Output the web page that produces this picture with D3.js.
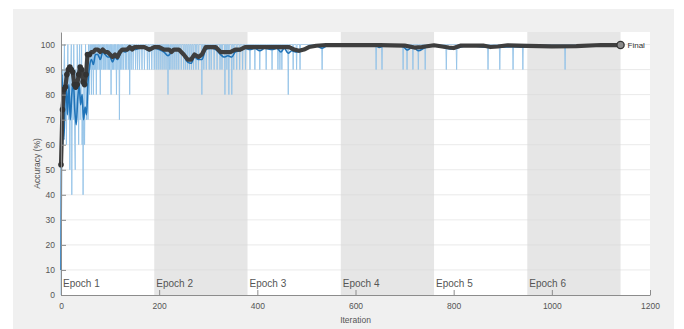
<!DOCTYPE html>
<html>
<head>
<meta charset="utf-8">
<script src="https://cdn.jsdelivr.net/npm/d3@7"></script>
<style>
  body { margin: 0; background: #fff; }
  svg text { font-family: "Liberation Sans", Arial, sans-serif; }
</style>
</head>
<body>
<div id="chart"></div>
<script>
// ... data

const epochNames = ['Epoch 1', 'Epoch 2', 'Epoch 3', 'Epoch 4', 'Epoch 5', 'Epoch 6'];
const epochStarts = [0, 190, 380, 570, 760, 950];
const lastIteration = 1140;

const xTicks = [0, 200, 400, 600, 800, 1000, 1200];
const yTicks = [0, 10, 20, 30, 40, 50, 60, 70, 80, 90, 100];

// mini-batch accuracy, iterations 0..60
const trainEarly = [0, 70, 60, 90, 80, 60, 90, 100, 80, 70, 90, 60, 80, 90, 100, 80, 70, 90, 50, 80,
    90, 100, 40, 80, 90, 70, 100, 80, 60, 50, 90, 80, 70, 100, 90, 80, 60, 90, 100, 70,
    80, 90, 100, 60, 80, 40, 70, 90, 60, 80, 100, 90, 70, 80, 90, 70, 100, 90, 80, 100, 90];

// later iterations where the mini-batch accuracy fell below 100
const trainDipIter = [62, 64, 66, 68, 70, 72, 75, 78, 80, 83, 86, 88, 91, 94, 97, 99, 102, 105, 107, 110,
    113, 116, 119, 121, 124, 127, 131, 134, 138, 140, 143, 147, 152, 156, 160, 165, 170, 176, 180, 185,
    190, 194, 198, 202, 206, 210, 214, 218, 221, 224, 228, 232, 236, 240, 245, 250, 254, 258, 262, 266,
    270, 275, 280, 287, 291, 296, 302, 306, 312, 318, 324, 328, 334, 338, 342, 348, 352, 358, 364, 370,
    376, 385, 395, 405, 418, 430, 442, 446, 450, 463, 473, 480, 487, 532, 642, 654, 697, 705, 717, 728,
    742, 785, 806, 870, 894, 921, 941, 1027];
const trainDipAcc = [80, 90, 80, 90, 90, 80, 90, 90, 80, 90, 90, 90, 90, 90, 90, 90, 80, 90, 90, 90,
    80, 90, 70, 90, 90, 90, 90, 90, 90, 80, 90, 90, 90, 90, 90, 90, 90, 90, 90, 90,
    90, 90, 90, 90, 90, 90, 90, 80, 90, 90, 90, 90, 90, 90, 90, 90, 90, 90, 90, 90,
    90, 90, 90, 80, 90, 90, 90, 90, 90, 90, 90, 90, 80, 90, 80, 80, 90, 90, 90, 90,
    90, 90, 90, 90, 90, 90, 90, 90, 90, 80, 90, 90, 90, 90, 90, 90, 90, 90, 90, 90,
    90, 90, 90, 90, 90, 90, 90, 90];

// smoothed training accuracy
const smoothIter = [0, 1, 2, 4, 6, 8, 10, 13, 16, 19, 22, 25, 28, 31, 34, 37, 40, 43, 46, 49,
    52, 55, 58, 62, 66, 70, 75, 80, 85, 90, 95, 100, 105, 110, 115, 120, 125, 130, 135, 140,
    150, 160, 170, 180, 190, 200, 210, 218, 225, 232, 240, 250, 258, 265, 272, 280, 287, 295, 305, 315,
    325, 332, 340, 348, 355, 365, 375, 385, 395, 405, 415, 430, 440, 448, 455, 463, 470, 480, 490, 500,
    520, 532, 545, 640, 648, 660, 697, 705, 717, 728, 742, 760, 785, 795, 806, 830, 870, 894, 921, 941,
    960, 1027, 1060, 1140];
const smoothAcc = [10, 60, 88, 75, 62, 78, 86, 72, 84, 70, 80, 86, 74, 68, 78, 84, 76, 80, 70, 75,
    72, 85, 91, 94, 92, 96, 96, 94, 97, 96, 95, 95, 93, 95, 94, 96, 97.5, 97, 97.5, 98,
    98, 98.5, 98.5, 97.5, 98.5, 98, 97, 95.5, 97, 98, 97.5, 95.5, 93, 92.5, 95, 94, 94, 98, 98.5, 98,
    96, 95, 95.5, 95, 97, 97.5, 98.5, 98, 98.5, 97.5, 98.5, 98, 98.5, 97, 98.5, 96.5, 97.5, 97, 97.5, 98.5,
    99.5, 98.5, 99.8, 99.8, 98.8, 99.7, 99.2, 97.8, 99.2, 97.5, 98.8, 99.6, 98.6, 98.2, 98.6, 99.6, 98.9, 98.9, 99.1, 98.9,
    99.5, 99.2, 99.6, 99.8];

// validation accuracy
const valIter = [0, 3, 6, 9, 12, 15, 18, 21, 24, 27, 30, 33, 36, 39, 42, 45, 48, 51, 54, 58,
    62, 66, 70, 75, 80, 85, 90, 95, 100, 105, 110, 115, 120, 125, 130, 135, 140, 145, 150, 160,
    170, 180, 190, 200, 210, 220, 225, 230, 240, 250, 258, 265, 272, 280, 287, 295, 305, 315, 325, 335,
    345, 355, 365, 375, 390, 410, 430, 450, 465, 475, 485, 495, 505, 520, 540, 600, 650, 700, 720, 735,
    760, 790, 800, 815, 860, 875, 890, 910, 950, 1000, 1050, 1100, 1140];
const valAcc = [52, 74, 82, 83, 88, 90, 91, 90, 89, 84, 83, 84, 88, 91, 90, 85, 84, 88, 96, 96,
    97, 97, 98, 98, 97, 98, 97, 97, 96, 95, 96, 95, 97, 98, 98, 98, 99, 98, 99, 99,
    99, 98, 99, 99, 98, 98, 97, 98, 98, 96, 94, 94, 96, 95, 96, 99, 99, 99, 97, 97,
    97, 98, 98, 99, 99, 99, 99, 99, 99, 98, 97.5, 98, 99, 99.5, 99.8, 99.8, 99.8, 99.6, 98.8, 99,
    99.7, 98.8, 98.6, 99.6, 99.6, 99, 99.2, 99.7, 99.5, 99.3, 99.4, 99.8, 99.8];

// ... assemble per-iteration mini-batch series
const dipMap = new Map(trainDipIter.map((it, i) => [it, trainDipAcc[i]]));
const train = [];
for (let it = 0; it <= lastIteration; it++) {
    const acc = it < trainEarly.length ? trainEarly[it] : (dipMap.has(it) ? dipMap.get(it) : 100);
    train.push({iteration: it, acc: acc});
}
const smooth = smoothIter.map((it, i) => ({iteration: it, acc: smoothAcc[i]}));
const val = valIter.map((it, i) => ({iteration: it, acc: valAcc[i]}));

// ... chart frame

const W = 684, H = 329;
const margin = {top: 32, right: 34, bottom: 34, left: 61};
const width = W - margin.left - margin.right;
const height = H - margin.top - margin.bottom;

const svg = d3.select('#chart').append('svg')
    .attr('width', W)
    .attr('height', H);

svg.append('rect')
    .attr('x', 13).attr('y', 9)
    .attr('width', 661).attr('height', H - 9)
    .attr('fill', '#f0f0f0');

const g = svg.append('g')
    .attr('transform', 'translate(' + margin.left + ',' + margin.top + ')');

const x = d3.scaleLinear().domain([0, 1200]).range([0, width]);
const y = d3.scaleLinear().domain([0, 105]).range([height, 0]);

g.append('rect')
    .attr('width', width)
    .attr('height', height)
    .attr('fill', '#ffffff');

// ... epoch bands
g.selectAll('.band')
    .data(epochStarts.filter((d, i) => i % 2 === 1))
    .enter().append('rect')
    .attr('class', 'band')
    .attr('x', d => x(d))
    .attr('y', 0)
    .attr('width', d => x(d + 190) - x(d))
    .attr('height', height)
    .attr('fill', '#e6e6e6');

// ... grid
g.selectAll('.grid')
    .data(yTicks.filter(d => d > 0))
    .enter().append('line')
    .attr('class', 'grid')
    .attr('x1', 0).attr('x2', width)
    .attr('y1', d => y(d)).attr('y2', d => y(d))
    .attr('stroke', '#d8d8d8')
    .attr('stroke-opacity', 0.55)
    .attr('stroke-width', 1);

// ... epoch labels
g.selectAll('.epoch')
    .data(epochStarts)
    .enter().append('text')
    .attr('class', 'epoch')
    .attr('x', d => x(d) + 2)
    .attr('y', height - 8)
    .attr('font-size', '10px')
    .attr('fill', '#555')
    .text((d, i) => epochNames[i]);

// ... series
const line = d3.line()
    .x(d => x(d.iteration))
    .y(d => y(d.acc));

g.append('path')
    .datum(train)
    .attr('fill', 'none')
    .attr('stroke', '#94c3e8')
    .attr('stroke-width', 0.9)
    .attr('d', line);

g.append('path')
    .datum(smooth)
    .attr('fill', 'none')
    .attr('stroke', '#1f73b8')
    .attr('stroke-width', 1.6)
    .attr('stroke-linejoin', 'round')
    .attr('d', d3.line().x(d => x(d.iteration)).y(d => y(d.acc)).curve(d3.curveMonotoneX));

g.append('path')
    .datum(val)
    .attr('fill', 'none')
    .attr('stroke', '#3e3e3e')
    .attr('stroke-width', 4.2)
    .attr('stroke-linejoin', 'round')
    .attr('d', line);

g.selectAll('.vdot')
    .data(val.slice(0, 20))
    .enter().append('circle')
    .attr('class', 'vdot')
    .attr('cx', d => x(d.iteration))
    .attr('cy', d => y(d.acc))
    .attr('r', 2.8)
    .attr('fill', '#333');

const last = val[val.length - 1];
g.append('circle')
    .attr('cx', x(last.iteration))
    .attr('cy', y(last.acc))
    .attr('r', 3.6)
    .attr('fill', '#8a8a8a')
    .attr('stroke', '#333')
    .attr('stroke-width', 1.3);

g.append('text')
    .attr('x', x(last.iteration) + 7)
    .attr('y', y(last.acc) + 3)
    .attr('font-size', '8px')
    .attr('fill', '#333')
    .text('Final');

// ... axes
const xAxis = d3.axisBottom(x)
    .tickValues(xTicks)
    .tickSizeInner(-5)
    .tickSizeOuter(0)
    .tickPadding(8)
    .tickFormat(d3.format('d'));

const yAxis = d3.axisLeft(y)
    .tickValues(yTicks)
    .tickSizeInner(-5)
    .tickSizeOuter(0)
    .tickPadding(6)
    .tickFormat(d3.format('d'));

const gx = g.append('g')
    .attr('transform', 'translate(0,' + height + ')')
    .call(xAxis);

const gy = g.append('g')
    .call(yAxis);

[gx, gy].forEach(a => {
    a.select('.domain').attr('stroke', '#8c8c8c');
    a.selectAll('.tick line').attr('stroke', '#8c8c8c');
    a.selectAll('.tick text')
        .attr('fill', '#555')
        .attr('font-size', '8.5px')
        .attr('font-family', '"Liberation Sans", Arial, sans-serif');
});

gx.append('text')
    .attr('x', width / 2)
    .attr('y', 28)
    .attr('fill', '#555')
    .attr('font-size', '8.5px')
    .style('text-anchor', 'middle')
    .text('Iteration');

gy.append('text')
    .attr('transform', 'rotate(-90)')
    .attr('x', -height / 2)
    .attr('y', -21)
    .attr('fill', '#555')
    .attr('font-size', '8.5px')
    .style('text-anchor', 'middle')
    .text('Accuracy (%)');
</script>
</body>
</html>
